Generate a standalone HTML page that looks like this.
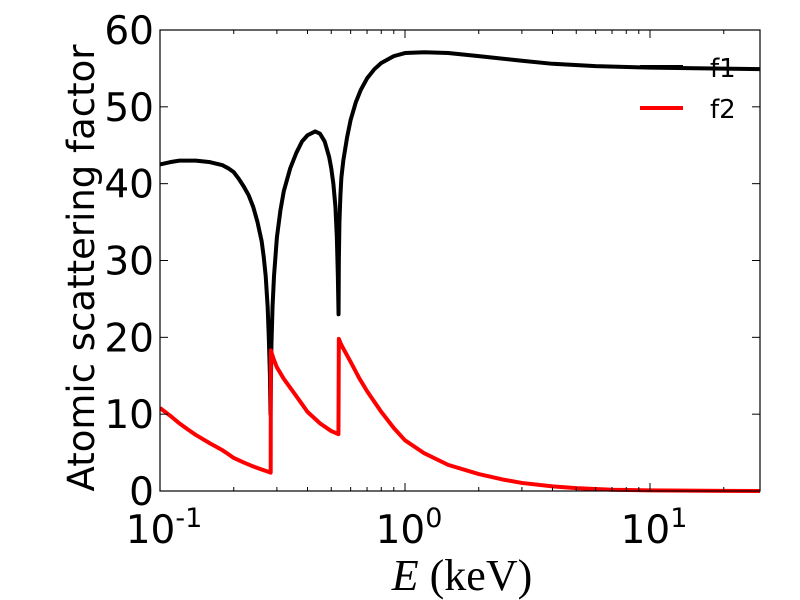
<!DOCTYPE html>
<html><head><meta charset="utf-8"><style>
body{margin:0;background:#fff;}
svg{display:block;font-family:"DejaVu Sans","Liberation Sans",sans-serif;}
</style></head><body>
<svg id="chart" width="800" height="600">
<defs><clipPath id="plotclip"><rect x="160" y="20" width="600" height="480"/></clipPath></defs>
</svg>
<script>
const f1E=[0.1,0.11,0.12,0.14,0.16,0.18,0.19,0.2,0.21,0.22,0.23,0.24,0.25,0.26,0.265,0.27,0.275,0.278,0.281,0.2825,0.2835,0.285,0.288,0.292,0.3,0.31,0.32,0.34,0.36,0.38,0.4,0.43,0.45,0.47,0.49,0.5,0.51,0.52,0.527,0.532,0.5355,0.537,0.54,0.545,0.55,0.56,0.58,0.6,0.63,0.66,0.7,0.75,0.8,0.9,1,1.2,1.5,2,3,4,6,10,30];
const f1V=[42.5,42.8,43,43,42.8,42.4,42,41.5,40.6,39.6,38.5,37,35,32.5,30.5,28,24,20,15,10,14,19,24,28,33,36.5,39,42,44,45.5,46.3,46.8,46.5,45.5,43.5,42,40,37,33,28,23,30,35,38.5,40.8,43,46,48.3,50.6,52.2,53.7,54.9,55.7,56.6,57,57.1,57,56.6,56,55.6,55.3,55.1,54.9];
const f2E=[0.1,0.11,0.12,0.13,0.14,0.16,0.18,0.19,0.2,0.22,0.24,0.26,0.283,0.2835,0.29,0.3,0.32,0.35,0.38,0.4,0.45,0.5,0.535,0.537,0.55,0.6,0.65,0.7,0.75,0.8,0.9,1,1.2,1.5,2,2.5,3,4,5,7,10,20,30];
const f2V=[10.8,9.8,8.8,8,7.3,6.2,5.3,4.8,4.3,3.7,3.2,2.8,2.4,18.3,17.3,16.1,14.6,12.9,11.3,10.3,8.8,7.8,7.4,19.8,19,16.8,14.7,13,11.6,10.3,8.2,6.6,4.9,3.4,2.2,1.5,1.05,0.6,0.38,0.17,0.08,0.01,0];
const yTicks=[0,10,20,30,40,50,60];
const xDecades=[-1,0,1];
const X0=160,X1=760,Y0=491,Y1=30,DEC=245;
const sx=e=>X0+(Math.log10(e)+1)*DEC;
const sy=v=>Y0-(v/60)*(Y0-Y1);
const svg=document.getElementById('chart');
const NS='http://www.w3.org/2000/svg';
function mk(t,a,p){const e=document.createElementNS(NS,t);for(const k in a)e.setAttribute(k,a[k]);(p||svg).appendChild(e);return e;}
const l1=mk('polyline',{points:f1E.map((e,i)=>sx(e)+','+sy(f1V[i])).join(' '),fill:'none',stroke:'#000','stroke-width':4,'stroke-linejoin':'round','clip-path':'url(#plotclip)'});


const l2=mk('polyline',{points:f2E.map((e,i)=>sx(e)+','+sy(f2V[i])).join(' '),fill:'none',stroke:'#f00','stroke-width':4,'stroke-linejoin':'round','clip-path':'url(#plotclip)'});


const fr=mk('rect',{x:X0,y:Y1,width:X1-X0,height:Y0-Y1,fill:'none',stroke:'#000','stroke-width':1.2});


yTicks.forEach(v=>{const y=sy(v);
mk('line',{x1:X0,x2:X0+8,y1:y,y2:y,stroke:'#000'});mk('line',{x1:X1,x2:X1-8,y1:y,y2:y,stroke:'#000'});
const t=mk('text',{x:154,y:y+14,'text-anchor':'end','font-size':39});t.textContent=v;

});
for(let d=-1;d<=1;d++)for(let m=1;m<10;m++){const e=m*Math.pow(10,d);const x=sx(e);if(x>X1+0.5)break;const L=m===1?8:4;
mk('line',{x1:x,x2:x,y1:Y0,y2:Y0-L,stroke:'#000'});mk('line',{x1:x,x2:x,y1:Y1,y2:Y1+L,stroke:'#000'});}
xDecades.forEach(d=>{const x=sx(Math.pow(10,d));
const t=mk('text',{x:x+4,y:543,'text-anchor':'middle','font-size':39});t.textContent='10';
const s=mk('tspan',{dy:-16,'font-size':27},t);s.textContent=String(d);

});
const xl=mk('text',{x:462,y:590,'text-anchor':'middle','font-size':44,'font-family':'"Liberation Serif",serif'});
xl.innerHTML='<tspan font-style="italic">E</tspan> (keV)';


const yl=mk('text',{x:0,y:0,'text-anchor':'middle','font-size':37,transform:'translate(94,268) rotate(-90)'});
yl.textContent='Atomic scattering factor';


const lg=mk('g',{});


mk('line',{x1:640,x2:683,y1:67,y2:67,stroke:'#000','stroke-width':4},lg);
const a=mk('text',{x:710,y:77,'font-size':26},lg);a.textContent='f1';
mk('line',{x1:640,x2:683,y1:108,y2:108,stroke:'#f00','stroke-width':4},lg);
const b=mk('text',{x:710,y:118,'font-size':26},lg);b.textContent='f2';
</script>
</body></html>
